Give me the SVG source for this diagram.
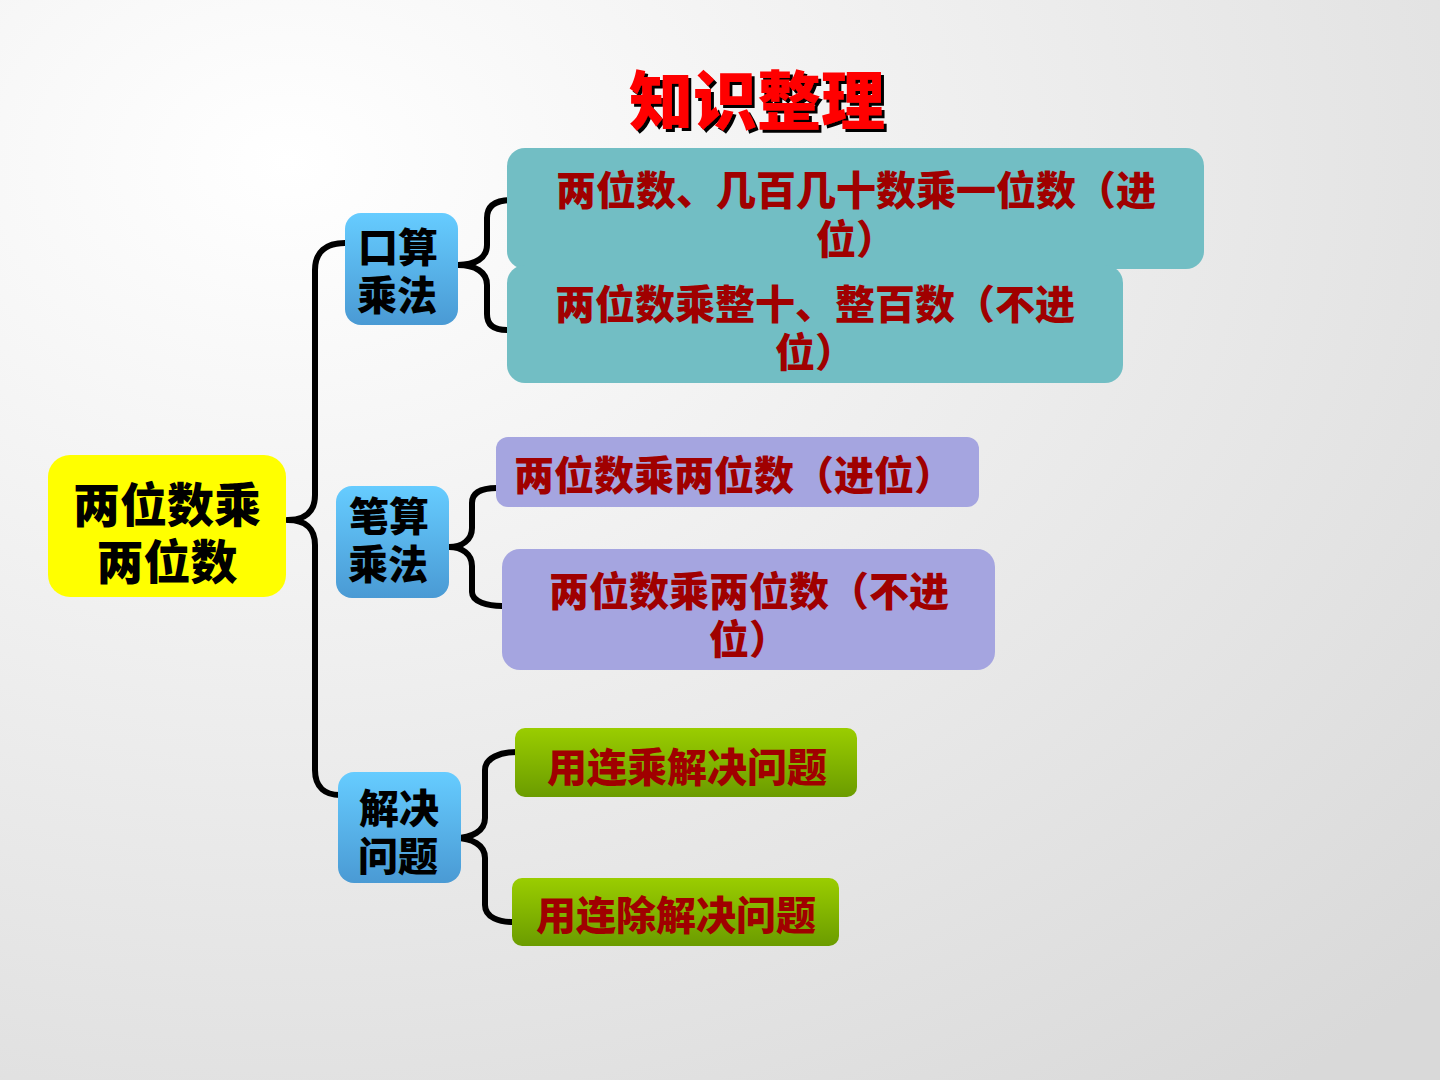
<svg xmlns="http://www.w3.org/2000/svg" width="1440" height="1080" viewBox="0 0 1440 1080">
<defs>
<radialGradient id="bg" cx="0.2" cy="0.15" r="1.1">
<stop offset="0" stop-color="#ffffff"/>
<stop offset="1" stop-color="#d9d9d9"/>
</radialGradient>
<linearGradient id="blue" x1="0" y1="0" x2="0" y2="1">
<stop offset="0" stop-color="#66ccff"/>
<stop offset="1" stop-color="#4a9ad4"/>
</linearGradient>
<linearGradient id="green" x1="0" y1="0" x2="0" y2="1">
<stop offset="0" stop-color="#9acd00"/>
<stop offset="1" stop-color="#6b9c00"/>
</linearGradient>
<filter id="shadow" x="-10%" y="-20%" width="120%" height="140%">
<feOffset in="SourceAlpha" dx="3" dy="3" result="o"/>
<feFlood flood-color="#000"/>
<feComposite in2="o" operator="in" result="s"/>
<feMerge><feMergeNode in="s"/><feMergeNode in="SourceGraphic"/></feMerge>
</filter>
</defs>
<style>
.t{font-family:"Noto Sans CJK SC","Microsoft YaHei",sans-serif;font-weight:900;text-anchor:middle;dominant-baseline:central}
.blk{fill:#000}
.red{fill:#a00000}
.br{fill:none;stroke:#000;stroke-width:6;stroke-linecap:round;stroke-linejoin:round}
</style>
<rect width="1440" height="1080" fill="url(#bg)"/>
<g id="title">
<text class="t" x="757" y="96" font-size="64" fill="#ff0000" filter="url(#shadow)">知识整理</text>
</g>
<g id="connectors">
<path class="br" d="M288,520 C305,520 315,512 315,495 L315,270 C315,252 326,243 345,243"/>
<path class="br" d="M288,520 C305,520 315,528 315,545 L315,770 C315,788 326,795 340,795"/>
<path class="br" d="M458,265 C475,265 487,258 487,245 L487,218 C487,205 497,200 512,200"/>
<path class="br" d="M458,265 C475,265 487,272 487,285 L487,314 C487,326 495,330 507,330"/>
<path class="br" d="M449,547 C462,547 472,540 472,528 L472,503 C472,492 482,488 497,488"/>
<path class="br" d="M449,547 C462,547 472,554 472,566 L472,592 C472,602 488,606 502,606"/>
<path class="br" d="M455,838 C472,838 485,831 485,818 L485,770 C485,758 500,752 517,752"/>
<path class="br" d="M455,838 C472,838 485,845 485,858 L485,905 C485,918 500,922 513,922"/>
</g>
<g id="root">
<rect x="48" y="455" width="238" height="142" rx="22" fill="#ffff00"/>
<text class="t blk" font-size="47"><tspan x="167" y="501">两位数乘</tspan><tspan x="167" y="558">两位数</tspan></text>
</g>
<g id="n-kousuan">
<rect x="345" y="213" width="113" height="112" rx="16" fill="url(#blue)"/>
<text class="t blk" font-size="40"><tspan x="398" y="245">口算</tspan><tspan x="397" y="293">乘法</tspan></text>
</g>
<g id="n-bisuan">
<rect x="336" y="486" width="113" height="112" rx="16" fill="url(#blue)"/>
<text class="t blk" font-size="40"><tspan x="389" y="514">笔算</tspan><tspan x="388" y="562">乘法</tspan></text>
</g>
<g id="n-jiejue">
<rect x="338" y="772" width="123" height="111" rx="16" fill="url(#blue)"/>
<text class="t blk" font-size="40"><tspan x="399" y="806">解决</tspan><tspan x="398" y="854">问题</tspan></text>
</g>
<g id="k1">
<rect x="507" y="148" width="697" height="121" rx="18" fill="#72bec4"/>
<text class="t red" font-size="40"><tspan x="856" y="188">两位数、几百几十数乘一位数（进</tspan><tspan x="856" y="237">位）</tspan></text>
</g>
<g id="k2">
<rect x="507" y="265" width="616" height="118" rx="18" fill="#72bec4"/>
<text class="t red" font-size="40"><tspan x="815" y="302">两位数乘整十、整百数（不进</tspan><tspan x="815" y="350">位）</tspan></text>
</g>
<g id="b1">
<rect x="496" y="437" width="483" height="70" rx="12" fill="#a5a5e0"/>
<text class="t red" x="734" y="473" font-size="40">两位数乘两位数（进位）</text>
</g>
<g id="b2">
<rect x="502" y="549" width="493" height="121" rx="18" fill="#a5a5e0"/>
<text class="t red" font-size="40"><tspan x="749" y="589">两位数乘两位数（不进</tspan><tspan x="749" y="637">位）</tspan></text>
</g>
<g id="j1">
<rect x="515" y="728" width="342" height="69" rx="10" fill="url(#green)"/>
<text class="t red" x="687" y="765" font-size="40">用连乘解决问题</text>
</g>
<g id="j2">
<rect x="512" y="878" width="327" height="68" rx="10" fill="url(#green)"/>
<text class="t red" x="676" y="913" font-size="40">用连除解决问题</text>
</g>
</svg>
